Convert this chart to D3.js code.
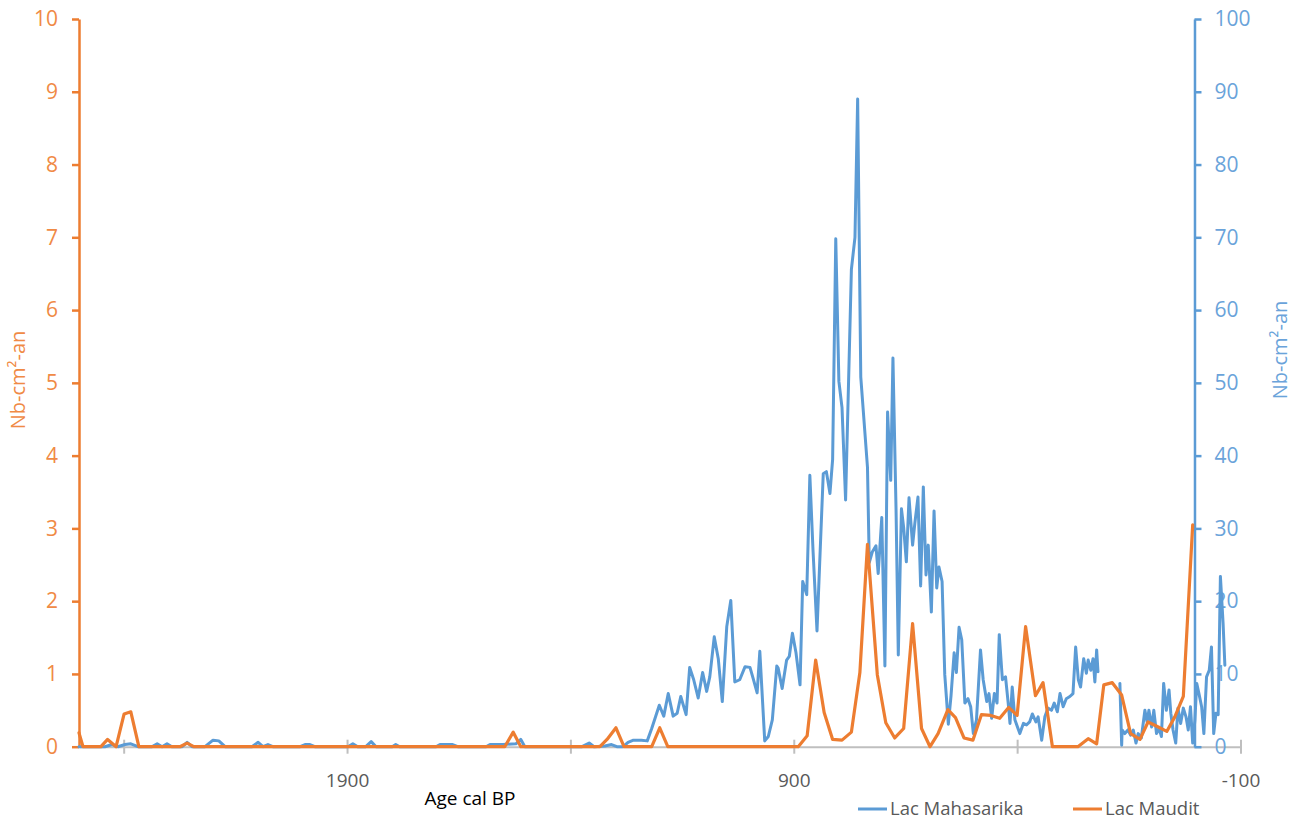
<!DOCTYPE html>
<html>
<head>
<meta charset="utf-8">
<script src="https://cdn.jsdelivr.net/npm/d3@7"></script>
<style>
  html, body { margin: 0; padding: 0; background: #fff; }
  svg { display: block; font-family: "Open Sans", "Noto Sans", sans-serif; }
</style>
</head>
<body>
<svg id="chart" width="1297" height="821"></svg>
<script>
// ---------- DATA ----------
const seriesNames = ["Lac Mahasarika", "Lac Maudit"];

// Lac Mahasarika (right axis) : age cal BP / Nb-cm²-an  (null = gap)
const ageMahasarika = [2500,2442,2426,2413,2397,2384,2368,2337,2325,2314,2303,2292,2269,2258,2247,2218,2200,2187,2173,2113,2099,2088,2077,2066,2005,1994,1983,1972,1898,1887,1876,1858,1846,1835,1799,1791,1782,1701,1692,1679,1665,1652,1589,1580,1564,1551,1522,1511,1502,1423,1374,1358,1347,1323,1308,1296,1282,1271,1259,1241,1228,1218,1201,1191,1181,1170,1161,1153,1141,1133,1124,1114,1104,1095,1088,1078,1069,1060,1050,1041,1032,1021,1009,998,991,982,976,965,957,948,938,935,926,916,910,903,895,886,880,871,864,857,848,840,834,827,819,813,806,799,792,784,771,763,757,750,735,731,724,716,711,703,696,690,683,678,671,666,659,654,648,642,634,629,622,616,610,604,599,592,586,580,575,568,562,554,548,541,536,530,524,517,510,504,498,491,482,476,468,463,457,451,445,440,433,426,420,416,411,405,394,386,379,372,366,358,353,345,338,331,323,317,310,304,297,290,282,275,269,263,258,251,245,241,235,230,226,222,219,195,170,166,165,159,152,146,140,134,129,122,114,109,105,99,94,88,82,77,72,66,60,56,51,45,40,34,28,22,17,12,7,2,-2,-7,-13,-18,-24,-30,-35,-40,-45,-50,-55,-61,-65];
const valMahasarika = [0,0,0.3,0,0.3,0.4,0,0,0.4,0,0.4,0,0,0.6,0,0,0.9,0.8,0,0,0.6,0,0.3,0,0,0.3,0.3,0,0,0.4,0,0,0.7,0,0,0.3,0,0,0.3,0.3,0.3,0,0,0.3,0.3,0.3,0.4,1.0,0,0,0,0.5,0,0.1,0.3,0,0,0.6,0.9,0.9,0.8,2.5,5.7,4.2,7.3,4.2,4.6,6.9,4.4,10.9,9.2,6.7,10.2,7.6,9.6,15.1,12.1,6.2,16.5,20.1,8.9,9.2,11,10.9,9.4,7.4,13.1,0.8,1.4,3.7,11.1,10.8,8,11.9,12.4,15.6,12.9,8.5,22.7,20.9,37.3,27.1,15.9,28.3,37.5,37.8,34.8,39.5,69.8,50.2,46.6,33.9,65.6,70.0,89.0,50.8,38.4,25.3,26.8,27.6,23.8,31.5,11.1,46.0,36.6,53.4,32.4,12.6,32.7,30.1,25.4,34.2,27.7,30.7,34.3,22.1,35.7,23.6,27.7,18.5,32.4,21.8,24.7,22.7,9.9,3.1,7.0,12.9,10.2,16.4,14.7,6.0,6.6,5.5,1.8,3.7,13.3,9.2,6.2,7.3,3.9,7.3,6.0,15.4,9.2,9.6,6.0,3.2,8.2,3.7,1.8,3.2,3.0,3.4,4.5,3.4,4.1,0.9,4.1,5.3,5.0,6.0,4.8,7.3,5.5,6.6,6.9,7.3,13.7,9.2,8.2,12.1,10.1,11.9,10.5,12.1,8.9,13.3,10.3,null,8.7,0.2,2.3,1.8,2.3,1.6,2.3,0.5,1.8,1.2,5.0,3.4,5.0,2.7,5.0,1.8,2.5,1.4,8.7,5.0,7.8,4.6,2.3,0.5,5.3,3.2,5.3,4.1,2.3,5.5,0.5,3.7,8.7,7.3,5.5,1.8,9.6,10.5,13.7,1.8,4.6,4.4,23.4,17.0,11.2];

// Lac Maudit (left axis) : age cal BP / Nb-cm²-an
const ageMaudit = [2500,2491,2451,2436,2417,2399,2384,2366,2274,2258,2243,1547,1528,1511,1334,1318,1298,1280,1218,1200,1182,890,870,851,832,813,792,771,752,735,713,694,674,654,634,614,595,577,555,538,519,499,480,459,439,419,400,381,359,342,321,264,241,222,206,187,166,146,125,107,84,65,47,28,7];
const valMaudit = [0.19,0,0,0.1,0,0.45,0.48,0,0,0.05,0,0,0.2,0,0,0.1,0.26,0,0,0.26,0,0,0.15,1.19,0.47,0.1,0.09,0.2,1.02,2.78,0.99,0.33,0.12,0.25,1.69,0.25,0,0.18,0.51,0.4,0.12,0.09,0.44,0.43,0.39,0.54,0.43,1.65,0.70,0.88,0,0,0.11,0.04,0.85,0.88,0.71,0.18,0.1,0.34,0.27,0.21,0.41,0.69,3.05];

// Axes / ticks
const xDomain = [2500, -100];
const xTicks = [2400, 1900, 1400, 900, 400, -100];
const xTickLabels = [1900, 900, -100];
const leftTicks = [0,1,2,3,4,5,6,7,8,9,10];
const rightTicks = [0,10,20,30,40,50,60,70,80,90,100];
const rightAxisAge = 3;
const xTitle = "Age cal BP";
const yTitle = "Nb-cm²-an";

// ---------- DRAW ----------
const ORANGE = "#ED7D31", BLUE = "#5B9BD5", GRAY = "#BFBFBF";
const svg = d3.select("#chart");
const x = d3.scaleLinear().domain(xDomain).range([79, 1240.5]);
const yL = d3.scaleLinear().domain([0, 10]).range([746.7, 19]);
const yR = d3.scaleLinear().domain([0, 100]).range([746.7, 19]);

// x axis
const xAxis = svg.append("g").attr("transform", "translate(0,746.7)")
  .call(d3.axisBottom(x).tickValues(xTicks)
    .tickFormat(d => xTickLabels.includes(d) ? String(d) : "")
    .tickSize(7).tickSizeOuter(0).tickPadding(20));
xAxis.select(".domain").attr("stroke", GRAY).attr("stroke-width", 2);
xAxis.selectAll(".tick line").attr("stroke", GRAY).attr("stroke-width", 2).attr("y1", -7);
xAxis.selectAll(".tick text").attr("fill", "#595959").attr("font-size", 19)
  .attr("font-family", "Open Sans, sans-serif");

// left axis
const lAxis = svg.append("g").attr("transform", "translate(79,0)")
  .call(d3.axisLeft(yL).tickValues(leftTicks).tickSize(7).tickSizeOuter(0).tickPadding(14));
lAxis.select(".domain").attr("stroke", ORANGE).attr("stroke-width", 2.5);
lAxis.selectAll(".tick line").attr("stroke", ORANGE).attr("stroke-width", 2.5);
lAxis.selectAll(".tick text").attr("fill", "#F08A45").attr("font-size", 21)
  .attr("font-family", "Open Sans, sans-serif");

// right axis
const rx = x(rightAxisAge);
const rAxis = svg.append("g").attr("transform", `translate(${rx},0)`)
  .call(d3.axisRight(yR).tickValues(rightTicks).tickSize(7).tickSizeOuter(0).tickPadding(13));
rAxis.select(".domain").attr("stroke", BLUE).attr("stroke-width", 2.5);
rAxis.selectAll(".tick line").attr("stroke", BLUE).attr("stroke-width", 2.5);
rAxis.selectAll(".tick text").attr("fill", "#6AA3DA").attr("font-size", 21)
  .attr("font-family", "Open Sans, sans-serif");

// series
const blueData = ageMahasarika.map((a, i) => ({a, v: valMahasarika[i]}));
const orangeData = ageMaudit.map((a, i) => ({a, v: valMaudit[i]}));

svg.append("path").datum(blueData)
  .attr("fill", "none").attr("stroke", BLUE).attr("stroke-width", 3)
  .attr("stroke-linejoin", "round").attr("stroke-linecap", "round")
  .attr("d", d3.line().defined(d => d.v != null).x(d => x(d.a)).y(d => yR(d.v)));

svg.append("path").datum(orangeData)
  .attr("fill", "none").attr("stroke", ORANGE).attr("stroke-width", 3.2)
  .attr("stroke-linejoin", "round").attr("stroke-linecap", "round")
  .attr("d", d3.line().x(d => x(d.a)).y(d => yL(d.v)));

// titles
svg.append("text").attr("x", 470).attr("y", 805).attr("text-anchor", "middle")
  .attr("font-size", 19).attr("fill", "#000").text(xTitle);
svg.append("text").attr("transform", "translate(25,380) rotate(-90)")
  .attr("text-anchor", "middle").attr("font-size", 20).attr("fill", "#F08A45").text(yTitle);
svg.append("text").attr("transform", "translate(1287,350) rotate(-90)")
  .attr("text-anchor", "middle").attr("font-size", 20).attr("fill", "#6AA3DA").text(yTitle);

// legend
const legend = [
  {name: seriesNames[0], color: BLUE, x: 858},
  {name: seriesNames[1], color: ORANGE, x: 1073}
];
legend.forEach(l => {
  svg.append("line").attr("x1", l.x).attr("x2", l.x + 29).attr("y1", 809).attr("y2", 809)
    .attr("stroke", l.color).attr("stroke-width", 3);
  svg.append("text").attr("x", l.x + 32).attr("y", 809).attr("dy", "0.35em")
    .attr("font-size", 18.5).attr("fill", "#595959").text(l.name);
});
</script>
</body>
</html>
